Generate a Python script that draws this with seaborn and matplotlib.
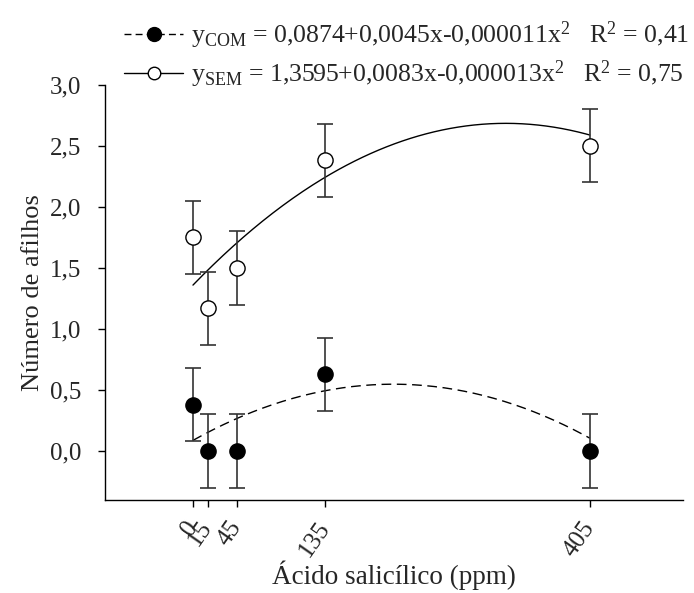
import numpy as np
import pandas as pd
import matplotlib
matplotlib.use('Agg')
import matplotlib.pyplot as plt
from matplotlib.lines import Line2D
from matplotlib.ticker import FuncFormatter
import seaborn as sns

# doses de acido salicilico (ppm)
doses = [0, 15, 45, 135, 405]

# medias e erros
com_mean = [0.38, 0.0, 0.0, 0.63, 0.0]
com_err = [0.3, 0.3, 0.3, 0.3, 0.3]
sem_mean = [1.75, 1.17, 1.5, 2.38, 2.5]
sem_err = [0.3, 0.3, 0.3, 0.3, 0.3]

# coeficientes das regressoes (b0, b1, b2)
com_coef = [0.0874, 0.0045, -0.000011]
sem_coef = [1.3595, 0.0083, -0.000013]

com_label = r'y$_{\mathrm{COM}}$ = 0,0874+0,0045x-0,000011x$^{2}$   R$^{2}$ = 0,41'
sem_label = r'y$_{\mathrm{SEM}}$ = 1,3595+0,0083x-0,000013x$^{2}$   R$^{2}$ = 0,75'

sns.set_style('ticks')
plt.rcParams['font.family'] = ['Liberation Serif', 'DejaVu Serif']
plt.rcParams['mathtext.fontset'] = 'custom'
plt.rcParams['mathtext.rm'] = 'Liberation Serif'
plt.rcParams['mathtext.it'] = 'Liberation Serif:italic'
plt.rcParams['font.size'] = 18

fig = plt.figure(figsize=(6.94, 5.93), dpi=100)
ax = fig.add_axes([0.151, 0.157, 0.833, 0.700])

# curvas ajustadas
xs = np.linspace(0, 405, 200)
curves = pd.DataFrame({
    'x': np.concatenate([xs, xs]),
    'y': np.concatenate([np.polyval(com_coef[::-1], xs), np.polyval(sem_coef[::-1], xs)]),
    'grupo': ['COM'] * len(xs) + ['SEM'] * len(xs),
})
sns.lineplot(data=curves[curves.grupo == 'COM'], x='x', y='y', ax=ax, color='black',
             lw=1, linestyle=(0, (7, 4)))
sns.lineplot(data=curves[curves.grupo == 'SEM'], x='x', y='y', ax=ax, color='black', lw=1)

# barras de erro
ax.errorbar(doses, com_mean, yerr=com_err, fmt='none', ecolor='#333333', elinewidth=1.2,
            capsize=6, capthick=1.2, zorder=2)
ax.errorbar(doses, sem_mean, yerr=sem_err, fmt='none', ecolor='#333333', elinewidth=1.2,
            capsize=6, capthick=1.2, zorder=2)

# pontos
sns.scatterplot(x=doses, y=com_mean, ax=ax, color='black', edgecolor='black', s=120,
                linewidth=1, zorder=3)
sns.scatterplot(x=doses, y=sem_mean, ax=ax, color='white', edgecolor='black', s=120,
                linewidth=1, zorder=3)

ax.set_xlim(-90, 500)
ax.set_ylim(-0.4, 3.0)
ax.set_xticks(doses)
ax.set_xticklabels([str(d) for d in doses], rotation=55, ha='right', va='center',
                   rotation_mode='anchor')
ax.set_yticks(np.arange(0, 3.01, 0.5))
ax.yaxis.set_major_formatter(FuncFormatter(lambda v, p: f'{v:.1f}'.replace('.', ',')))
ax.tick_params(axis='both', labelsize=18, length=5, width=1, color='black')
ax.tick_params(axis='y', pad=12)
ax.tick_params(axis='x', pad=12)
for s in ['left', 'bottom']:
    ax.spines[s].set_color('black')
    ax.spines[s].set_linewidth(1)
sns.despine(ax=ax)

ax.set_xlabel('Ácido salicílico (ppm)', fontsize=19.5, labelpad=0)
ax.set_ylabel('Número de afilhos', fontsize=19, labelpad=4)

handles = [
    Line2D([], [], color='black', lw=1, linestyle=(0, (5, 3)), marker='o', markersize=10,
           markerfacecolor='black', markeredgecolor='black'),
    Line2D([], [], color='black', lw=1, marker='o', markersize=9,
           markerfacecolor='white', markeredgecolor='black'),
]
fig.legend(handles, [com_label, sem_label], loc='upper left', bbox_to_anchor=(0.153, 0.997),
           frameon=False, fontsize=18.5, handlelength=2.3, handletextpad=0.3,
           labelspacing=0.3, borderpad=0.2)

fig.savefig('out.png', dpi=100)
